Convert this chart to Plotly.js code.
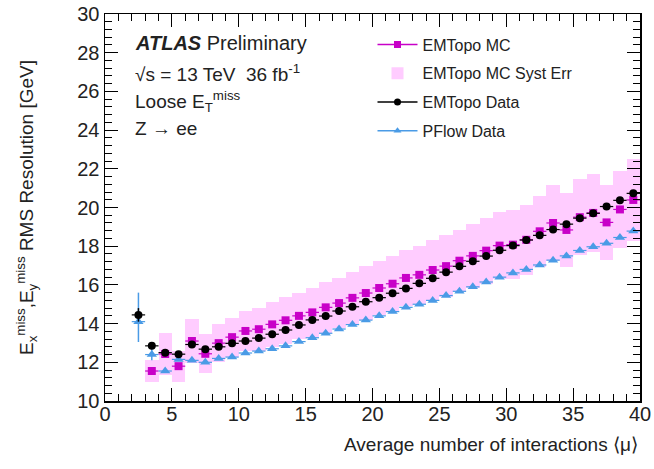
<!DOCTYPE html>
<html>
<head>
<meta charset="utf-8">
<script src="https://cdn.plot.ly/plotly-3.0.1.min.js"></script>
<style>html,body{margin:0;padding:0;background:#fff;}#chart{width:654px;height:469px;}</style>
</head>
<body>
<div id="chart"></div>
<script>
// Bin centres of <mu>
const muData = [2.5,3.5,4.5,5.5,6.5,7.5,8.5,9.5,10.5,11.5,12.5,13.5,14.5,15.5,16.5,17.5,18.5,19.5,20.5,21.5,22.5,23.5,24.5,25.5,26.5,27.5,28.5,29.5,30.5,31.5,32.5,33.5,34.5,35.5,36.5,37.5,38.5,39.5];
const muMC = [3.5,4.5,5.5,6.5,7.5,8.5,9.5,10.5,11.5,12.5,13.5,14.5,15.5,16.5,17.5,18.5,19.5,20.5,21.5,22.5,23.5,24.5,25.5,26.5,27.5,28.5,29.5,30.5,31.5,32.5,33.5,34.5,35.5,36.5,37.5,38.5,39.5];

// EMTopo MC
const emtopoMC = [11.55,12.43,11.8,13.1,12.44,12.99,13.3,13.62,13.71,13.96,14.17,14.4,14.58,14.84,15.06,15.33,15.58,15.84,16.06,16.36,16.52,16.77,16.97,17.25,17.5,17.77,18.03,18.08,18.33,18.77,19.2,18.84,19.5,19.72,19.23,19.9,20.39];
// EMTopo MC systematic uncertainty (half-width of band)
const emtopoMCSyst = [0.55,1.1,0.8,1.15,1.0,1.0,1.0,1.05,1.1,1.15,1.2,1.2,1.25,1.3,1.3,1.35,1.4,1.4,1.45,1.45,1.5,1.55,1.6,1.6,1.65,1.7,1.75,1.8,1.8,1.85,1.95,1.9,1.95,2.0,1.95,2.0,2.1];
// EMTopo Data
const emtopoData = [14.45,12.85,12.5,12.42,12.92,12.68,12.8,12.98,13.1,13.25,13.45,13.67,13.93,14.19,14.39,14.65,14.87,15.13,15.34,15.57,15.82,16.08,16.34,16.66,16.96,17.22,17.49,17.79,18.03,18.32,18.56,18.86,19.14,19.45,19.7,20.05,20.37,20.73];
const emtopoDataErr = [0.35,0.15,0.08,0.08,0.05,0.05,0.03,0.03,0.03,0.03,0.03,0.03,0.03,0.03,0.03,0.03,0.03,0.03,0.03,0.03,0.03,0.03,0.03,0.03,0.03,0.03,0.03,0.03,0.03,0.03,0.03,0.03,0.03,0.03,0.03,0.03,0.03,0.03];
// PFlow Data
const pflowData = [14.1,12.4,11.55,12.15,12.1,12.0,12.2,12.27,12.48,12.58,12.7,12.85,13.07,13.27,13.5,13.72,13.95,14.18,14.4,14.62,14.84,15.0,15.2,15.45,15.67,15.9,16.15,16.4,16.62,16.8,17.03,17.28,17.5,17.78,17.97,18.15,18.45,18.78];
const pflowErrUp = [1.5,0.3,0.08,0.08,0.05,0.05,0.03,0.03,0.03,0.03,0.03,0.03,0.03,0.03,0.03,0.03,0.03,0.03,0.03,0.03,0.03,0.03,0.03,0.03,0.03,0.03,0.03,0.03,0.03,0.03,0.03,0.03,0.03,0.03,0.03,0.03,0.03,0.03];
const pflowErrDown = [1.05,0.3,0.08,0.08,0.05,0.05,0.03,0.03,0.03,0.03,0.03,0.03,0.03,0.03,0.03,0.03,0.03,0.03,0.03,0.03,0.03,0.03,0.03,0.03,0.03,0.03,0.03,0.03,0.03,0.03,0.03,0.03,0.03,0.03,0.03,0.03,0.03,0.03];
const binHalfWidth = 0.5;

const cMC = '#c800c8', cBand = '#ffccff', cData = '#000000', cPF = '#4a9be6';
const FONT = 'Liberation Sans, Arial, Helvetica, sans-serif';

const bandBase = emtopoMC.map((v,i)=>v-emtopoMCSyst[i]);
const bandHeight = emtopoMCSyst.map(e=>2*e);

const xerrCfg = (col)=>({type:'constant', value:binHalfWidth, width:0, thickness:1.2, color:col});

const traces = [
  {type:'bar', x:muMC, y:bandHeight, base:bandBase, width:1, marker:{color:cBand, line:{width:0}},
   name:'EMTopo MC Syst Err', showlegend:true, legendrank:2, legendgroup:'b', hoverinfo:'skip'},
  {type:'scatter', mode:'markers', x:muMC, y:emtopoMC, marker:{symbol:'square', size:8, color:cMC},
   error_x:xerrCfg(cMC), showlegend:false},
  {type:'scatter', mode:'markers', x:muData, y:pflowData, marker:{symbol:'triangle-up', size:9, color:cPF},
   error_x:xerrCfg(cPF), error_y:{type:'data', array:pflowErrUp, arrayminus:pflowErrDown, width:0, thickness:1.5, color:cPF}, showlegend:false},
  {type:'scatter', mode:'markers', x:muData, y:emtopoData, marker:{symbol:'circle', size:8, color:cData},
   error_x:xerrCfg(cData), error_y:{type:'data', array:emtopoDataErr, width:0, thickness:1.5, color:cData}, showlegend:false},
  // legend entries
  {type:'scatter', mode:'lines+markers', x:[null], y:[null], name:'EMTopo MC', line:{color:cMC, width:1.5},
   marker:{symbol:'square', size:7, color:cMC}, legendrank:1, legendgroup:'a'},
  {type:'scatter', mode:'lines+markers', x:[null], y:[null], name:'EMTopo Data', line:{color:cData, width:1.5},
   marker:{symbol:'circle', size:7, color:cData}, legendrank:3, legendgroup:'c'},
  {type:'scatter', mode:'lines+markers', x:[null], y:[null], name:'PFlow Data', line:{color:cPF, width:1.5},
   marker:{symbol:'triangle-up', size:7, color:cPF}, legendrank:4, legendgroup:'d'}
];

const axisCommon = {
  showline:true, linecolor:'#000', linewidth:1.5, mirror:'allticks', ticks:'inside', ticklen:13, tickwidth:1,
  tickcolor:'#000', showgrid:false, zeroline:false, tickfont:{family:FONT, size:20, color:'#222'}
};

const layout = {
  width:654, height:469,
  margin:{l:105, r:14, t:14, b:68},
  paper_bgcolor:'#fff', plot_bgcolor:'#fff',
  font:{family:FONT, color:'#222'},
  barmode:'overlay', bargap:0,
  xaxis:Object.assign({}, axisCommon, {range:[0,40], dtick:5, tick0:0, ticklabelstandoff:-6,
    minor:{dtick:1, ticks:'inside', ticklen:7, tickcolor:'#000', showgrid:false}}),
  yaxis:Object.assign({}, axisCommon, {range:[10,30], dtick:2, tick0:10,
    minor:{dtick:0.4, ticks:'inside', ticklen:7, tickcolor:'#000', showgrid:false},
    title:{text:'E<sub>x</sub><sup>miss</sup>,E<sub>y</sub><sup>miss</sup> RMS Resolution [GeV]', font:{family:FONT, size:19, color:'#222'}, standoff:38}}),
  showlegend:true,
  legend:{x:0.5, y:0.965, xanchor:'left', yanchor:'top', bgcolor:'rgba(0,0,0,0)', borderwidth:0,
    font:{family:FONT, size:16, color:'#222'}, tracegroupgap:5, traceorder:'grouped', itemwidth:40},
  annotations:[
    {xref:'paper', yref:'paper', x:1, y:-0.113, xanchor:'right', yanchor:'middle', showarrow:false,
     text:'Average number of interactions ⟨μ⟩', font:{family:FONT, size:19, color:'#222'}},
    {xref:'paper', yref:'paper', x:0.052, y:0.925, xanchor:'left', yanchor:'middle', showarrow:false,
     text:'<b><i>ATLAS</i></b> Preliminary', font:{family:FONT, size:20, color:'#222'}},
    {xref:'paper', yref:'paper', x:0.052, y:0.848, xanchor:'left', yanchor:'middle', showarrow:false,
     text:'√s = 13 TeV  36 fb<sup>-1</sup>', font:{family:FONT, size:19, color:'#222'}},
    {xref:'paper', yref:'paper', x:0.052, y:0.775, xanchor:'left', yanchor:'middle', showarrow:false,
     text:'Loose E<sub>T</sub><sup>miss</sup>', font:{family:FONT, size:19, color:'#222'}},
    {xref:'paper', yref:'paper', x:0.052, y:0.705, xanchor:'left', yanchor:'middle', showarrow:false,
     text:'Z → ee', font:{family:FONT, size:19, color:'#222'}}
  ]
};

Plotly.newPlot('chart', traces, layout, {staticPlot:true, displayModeBar:false});
</script>
</body>
</html>
